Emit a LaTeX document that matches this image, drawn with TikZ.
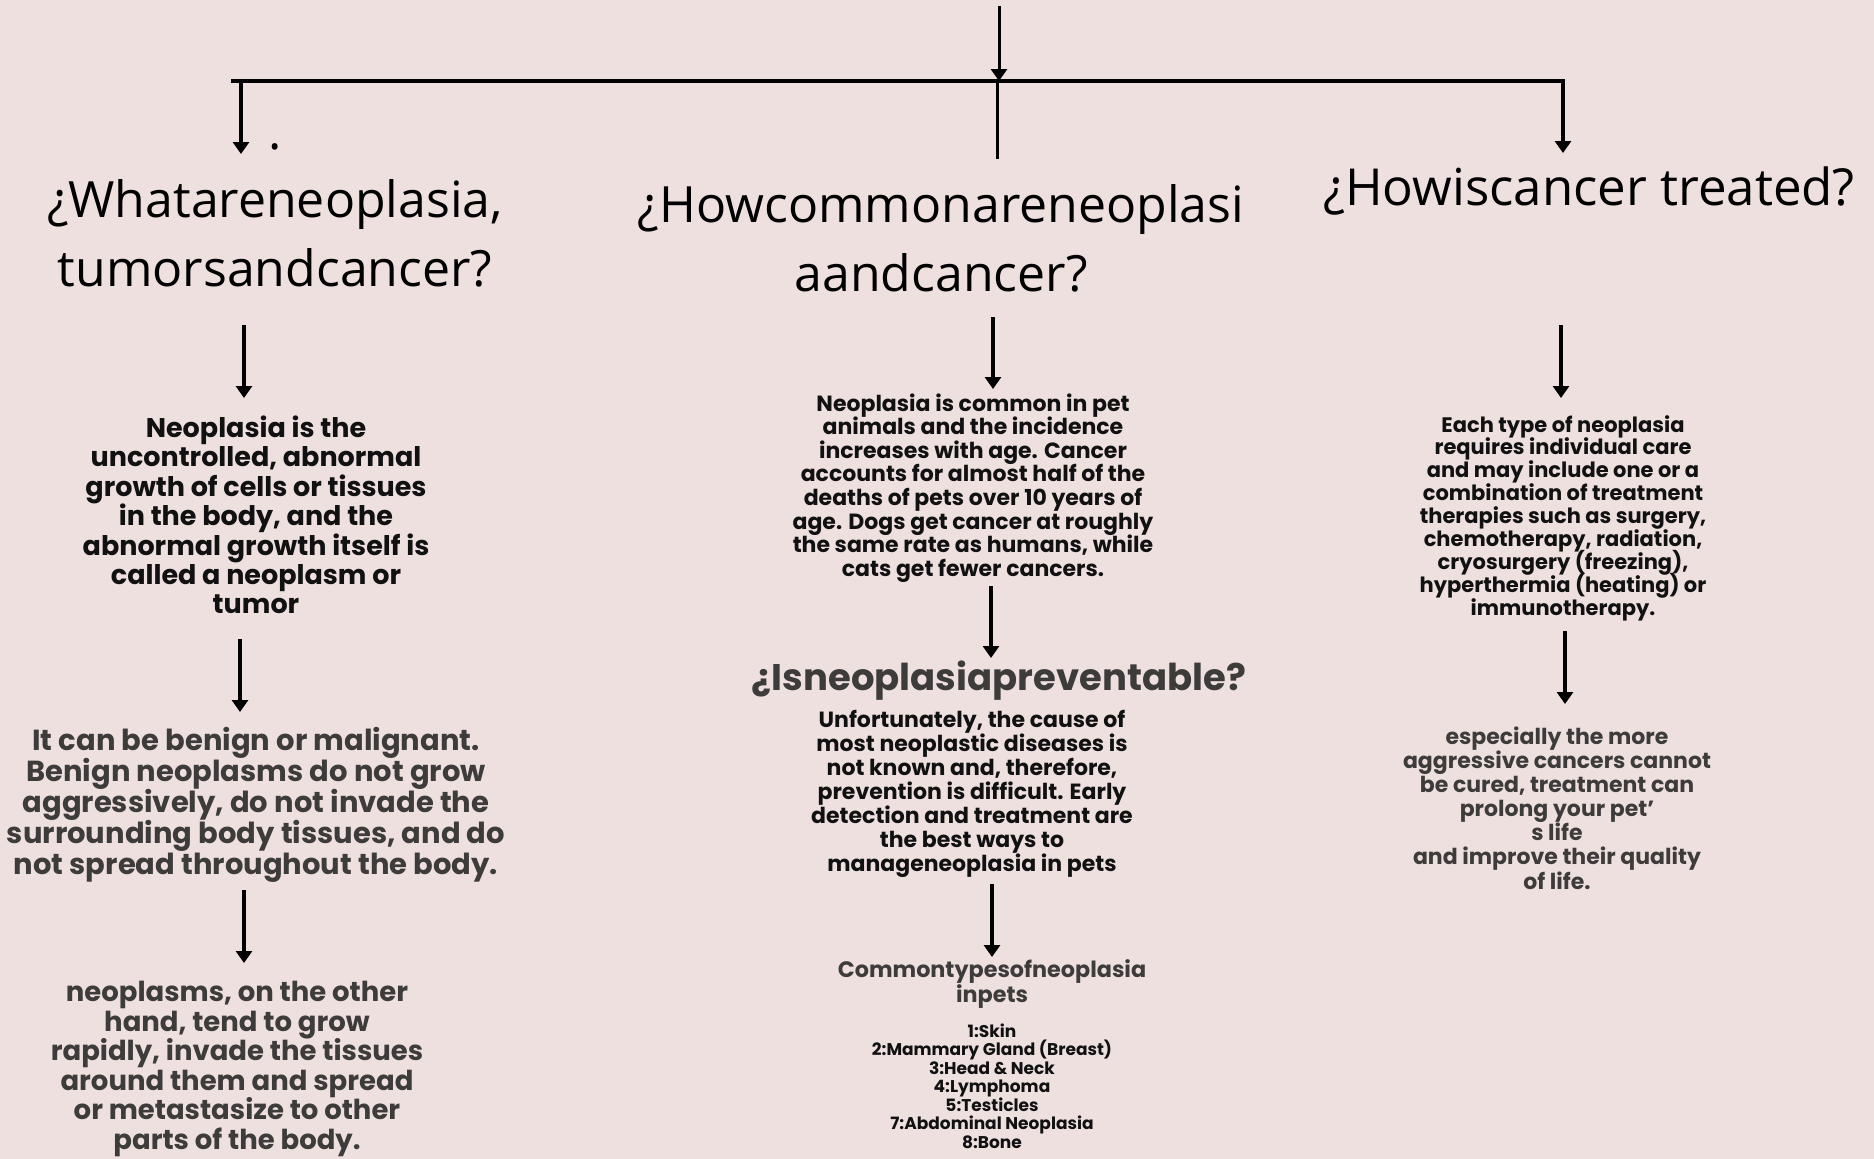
\documentclass[tikz,border=0pt]{standalone}
\usepackage{fontspec}
\usetikzlibrary{arrows.meta}
\setmainfont{Open Sans}
\newfontfamily\bodyfont{Poppins}
\definecolor{bg}{RGB}{239,224,224}
\definecolor{ink}{RGB}{17,17,17}
\definecolor{grayink}{RGB}{62,59,59}
\tikzset{
  conn/.style={line width=3.5pt, draw=black},
  arr/.style={conn, -{Triangle[length=12pt,width=16pt]}},
  head/.style={align=center, text=black, inner sep=0pt, font=\fontsize{50}{69}\selectfont},
  blk/.style={align=center, text=ink, inner sep=0pt},
  gry/.style={align=center, text=grayink, inner sep=0pt},
}
\begin{document}
\begin{tikzpicture}[x=1pt,y=-1pt]
\useasboundingbox (0,0) rectangle (1874,1159);
\fill[bg] (0,0) rectangle (1874,1159);
\lineskiplimit=-30pt \lineskip=0pt

% headings
\node[head] (h1) at (275,233) {¿Whatareneoplasia,\\tumorsandcancer?};
\node[head] (h2) at (941,238) {¿Howcommonareneoplasi\\aandcancer?};
\node[head, font=\fontsize{51}{69}\selectfont] (h3) at (1589,191) {¿Howiscancer treated?};
\node[head] (dot) at (275,147) {.};

% top structure
\coordinate (top) at (999,6);
\coordinate (hub) at (999,81);
\coordinate (barL) at (231,81);
\coordinate (barR) at (1565,81);
\coordinate (dL) at (241,81);
\coordinate (dLe) at (241,154);
\coordinate (dM) at (997,81);
\coordinate (dMe) at (997,159);
\coordinate (dR) at (1563,81);
\coordinate (dRe) at (1563,153);
\draw[line width=4pt] (barL) -- (barR);
\draw[arr, line width=3pt] (top) -- (hub);
\draw[arr] (dL) -- (dLe);
\draw[conn, line width=3pt] (dM) -- (dMe);
\draw[arr] (dR) -- (dRe);

% left column
\node[blk, font=\bodyfont\bfseries\fontsize{27}{29.4}\selectfont] (t1a) at (256,515)
 {Neoplasia is the\\uncontrolled, abnormal\\growth of cells or tissues\\in the body, and the\\abnormal growth itself is\\called a neoplasm or\\tumor};
\node[gry, font=\bodyfont\bfseries\fontsize{29}{31}\selectfont] (t1b) at (256,805)
 {It can be benign or malignant.\\Benign neoplasms do not grow\\aggressively, do not invade the\\surrounding body tissues, and do\\not spread throughout the body.};
\node[gry, font=\bodyfont\bfseries\fontsize{27.5}{29.6}\selectfont] (t1c) at (237,1069)
 {neoplasms, on the other\\hand, tend to grow\\rapidly, invade the tissues\\around them and spread\\or metastasize to other\\parts of the body.};
\coordinate (a1s) at (244,325);
\coordinate (a1e) at (244,398);
\coordinate (a2s) at (240,639);
\coordinate (a2e) at (240,712);
\coordinate (a3s) at (244,890);
\coordinate (a3e) at (244,963);
\draw[arr] (a1s) -- (a1e);
\draw[arr] (a2s) -- (a2e);
\draw[arr] (a3s) -- (a3e);

% middle column
\node[blk, font=\bodyfont\bfseries\fontsize{22}{23.6}\selectfont] (t2a) at (973,488)
 {Neoplasia is common in pet\\animals and the incidence\\increases with age. Cancer\\accounts for almost half of the\\deaths of pets over 10 years of\\age. Dogs get cancer at roughly\\the same rate as humans, while\\cats get fewer cancers.};
\node[gry, font=\bodyfont\bfseries\fontsize{37}{40}\selectfont] (t2h) at (999,681)
 {¿Isneoplasiapreventable?};
\node[blk, font=\bodyfont\bfseries\fontsize{22}{24.1}\selectfont] (t2b) at (972,794)
 {Unfortunately, the cause of\\most neoplastic diseases is\\not known and, therefore,\\prevention is difficult. Early\\detection and treatment are\\the best ways to\\manageneoplasia in pets};
\node[gry, font=\bodyfont\bfseries\fontsize{22.3}{25}\selectfont] (t2c) at (992,984)
 {Commontypesofneoplasia\\inpets};
\node[blk, font=\bodyfont\bfseries\fontsize{17}{18.5}\selectfont] (t2d) at (992,1086)
 {1:Skin\\2:Mammary Gland (Breast)\\3:Head \& Neck\\4:Lymphoma\\5:Testicles\\7:Abdominal Neoplasia\\8:Bone};
\coordinate (b1s) at (993,317);
\coordinate (b1e) at (993,389);
\coordinate (b2s) at (991,586);
\coordinate (b2e) at (991,658);
\coordinate (b3s) at (992,884);
\coordinate (b3e) at (992,957);
\draw[arr] (b1s) -- (b1e);
\draw[arr] (b2s) -- (b2e);
\draw[arr] (b3s) -- (b3e);

% right column
\node[blk, font=\bodyfont\bfseries\fontsize{21}{22.9}\selectfont] (t3a) at (1563,518)
 {Each type of neoplasia\\requires individual care\\and may include one or a\\combination of treatment\\therapies such as surgery,\\chemotherapy, radiation,\\cryosurgery (freezing),\\hyperthermia (heating) or\\immunotherapy.};
\node[gry, font=\bodyfont\bfseries\fontsize{22}{24.1}\selectfont] (t3b) at (1557,808)
 {especially the more\\aggressive cancers cannot\\be cured, treatment can\\prolong your pet’\\s life\\and improve their quality\\of life.};
\coordinate (c1s) at (1561,325);
\coordinate (c1e) at (1561,398);
\coordinate (c2s) at (1565,631);
\coordinate (c2e) at (1565,704);
\draw[arr] (c1s) -- (c1e);
\draw[arr] (c2s) -- (c2e);
\end{tikzpicture}
\end{document}
